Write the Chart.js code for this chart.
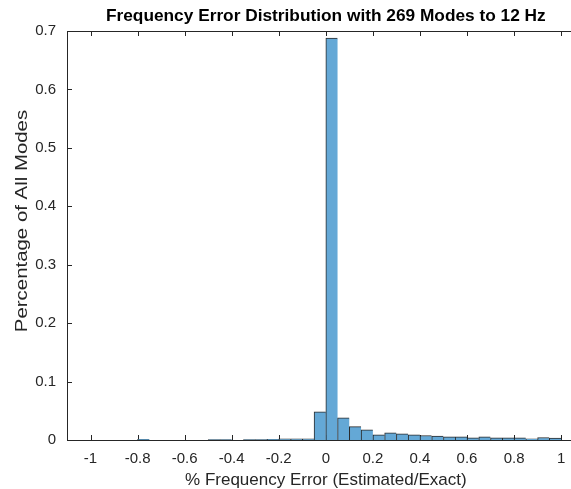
<!DOCTYPE html>
<html>
<head>
<meta charset="utf-8">
<style>
  html, body { margin: 0; padding: 0; overflow: hidden; background: #ffffff; }
</style>
<script src="https://cdn.jsdelivr.net/npm/chart.js@4.4.1/dist/chart.umd.min.js"></script>
</head>
<body>
<canvas id="c" width="571" height="489"></canvas>
<script>
// ---- data ----
const binCenters = [-0.775, -0.725, -0.675, -0.625, -0.575, -0.525, -0.475, -0.425, -0.375, -0.325,
                    -0.275, -0.225, -0.175, -0.125, -0.075, -0.025, 0.025, 0.075, 0.125, 0.175,
                    0.225, 0.275, 0.325, 0.375, 0.425, 0.475, 0.525, 0.575, 0.625, 0.675,
                    0.725, 0.775, 0.825, 0.875, 0.925, 0.975];
const binValues  = [0.0012, 0, 0, 0, 0, 0, 0.0008, 0.0008, 0, 0.0008,
                    0.0008, 0.0012, 0.0018, 0.0018, 0.0018, 0.048, 0.688, 0.038, 0.023, 0.0175,
                    0.009, 0.0123, 0.0106, 0.0089, 0.0077, 0.0065, 0.0055, 0.0055, 0.0038, 0.0055,
                    0.0038, 0.0038, 0.0038, 0.0021, 0.0043, 0.0031];
const xTickValues = [-1, -0.8, -0.6, -0.4, -0.2, 0, 0.2, 0.4, 0.6, 0.8, 1];
const xTickLabels = ['-1', '-0.8', '-0.6', '-0.4', '-0.2', '0', '0.2', '0.4', '0.6', '0.8', '1'];
const yTickValues = [0, 0.1, 0.2, 0.3, 0.4, 0.5, 0.6, 0.7];
const yTickLabels = ['0', '0.1', '0.2', '0.3', '0.4', '0.5', '0.6', '0.7'];
const titleText = 'Frequency Error Distribution with 269 Modes to 12 Hz';
const xTitle = '% Frequency Error (Estimated/Exact)';
const yTitle = 'Percentage of All Modes';
// axes limits: MATLAB axes run -1.1 .. 1.1, the figure is cropped on the right
const xMin = -1.1, xMaxVisible = 1.042, xAxesCenter = 0;

// ---- styles ----
const axisColor = 'rgb(38,38,38)';
const barFill = 'rgb(100,168,214)';
const barEdge = 'rgba(20,20,20,0.9)';
const fontFamily = '"Liberation Sans", Arial, Helvetica, sans-serif';
const tickLen = 5;

const boxPlugin = {
  id: 'matlabBox',
  beforeDatasetsDraw(chart) {
    const {ctx, chartArea: a, scales: {x, y}} = chart;
    ctx.save();
    ctx.strokeStyle = axisColor;
    ctx.lineWidth = 1;
    ctx.beginPath();
    x.ticks.forEach(t => {
      const px = Math.round(x.getPixelForValue(t.value)) + 0.5;
      ctx.moveTo(px, a.bottom); ctx.lineTo(px, a.bottom - tickLen);
      ctx.moveTo(px, a.top); ctx.lineTo(px, a.top + tickLen);
    });
    y.ticks.forEach(t => {
      const py = Math.round(y.getPixelForValue(t.value)) + 0.5;
      ctx.moveTo(a.left, py); ctx.lineTo(a.left + tickLen, py);
    });
    ctx.stroke();
    ctx.restore();
  },
  afterDraw(chart) {
    const {ctx, chartArea: a, scales: {x, y}} = chart;
    const cx = x.getPixelForValue(xAxesCenter);
    ctx.save();
    ctx.strokeStyle = axisColor;
    ctx.lineWidth = 1;
    ctx.beginPath();
    ctx.moveTo(a.left, Math.round(a.top) + 0.5); ctx.lineTo(a.right, Math.round(a.top) + 0.5);
    ctx.stroke();
    // title, centred over the (uncropped) axes
    ctx.fillStyle = '#000';
    ctx.font = 'bold 17.3px ' + fontFamily;
    ctx.textAlign = 'center';
    ctx.textBaseline = 'alphabetic';
    ctx.fillText(titleText, cx, 21);
    // x axis label
    ctx.fillStyle = axisColor;
    ctx.font = '17px ' + fontFamily;
    ctx.textBaseline = 'middle';
    ctx.fillText(xTitle, cx, 480.5);
    // y axis label (appears stretched along its length in the reference)
    ctx.translate(22, 221);
    ctx.rotate(-Math.PI / 2);
    ctx.scale(1.2, 1);
    ctx.font = '17px ' + fontFamily;
    ctx.fillText(yTitle, 0, 0);
    ctx.restore();
  }
};

new Chart(document.getElementById('c'), {
  type: 'bar',
  data: {
    datasets: [{
      data: binCenters.map((c, i) => ({x: c, y: binValues[i]})),
      backgroundColor: barFill,
      borderColor: barEdge,
      borderWidth: {top: 1, left: 1, right: 0, bottom: 0},
      borderSkipped: false,
      barPercentage: 1,
      categoryPercentage: 1
    }]
  },
  options: {
    responsive: false,
    animation: false,
    devicePixelRatio: 1,
    layout: { padding: { left: 0, right: 0, top: 31, bottom: 0 } },
    plugins: {
      legend: { display: false },
      tooltip: { enabled: false },
      title: { display: false }
    },
    scales: {
      x: {
        type: 'linear',
        offset: false,
        min: xMin,
        max: xMaxVisible,
        afterBuildTicks: s => { s.ticks = xTickValues.map(v => ({value: v})); },
        afterFit: s => { s.height = 49; s.paddingLeft = 0; s.paddingRight = 0; },
        grid: { display: false, drawTicks: false, offset: false },
        border: { display: true, color: axisColor, width: 1 },
        ticks: {
          padding: 10,
          color: axisColor,
          maxRotation: 0,
          autoSkip: false,
          font: { family: fontFamily, size: 15 },
          callback: (v, i) => xTickLabels[i]
        },
        title: { display: false }
      },
      y: {
        min: 0,
        max: 0.7,
        afterBuildTicks: s => { s.ticks = yTickValues.map(v => ({value: v})); },
        afterFit: s => { s.width = 67; s.paddingTop = 0; s.paddingBottom = 0; },
        grid: { display: false, drawTicks: false },
        border: { display: true, color: axisColor, width: 1 },
        ticks: {
          padding: 11,
          color: axisColor,
          autoSkip: false,
          font: { family: fontFamily, size: 15 },
          callback: (v, i) => yTickLabels[i]
        },
        title: { display: false }
      }
    }
  },
  plugins: [boxPlugin]
});
</script>
</body>
</html>
